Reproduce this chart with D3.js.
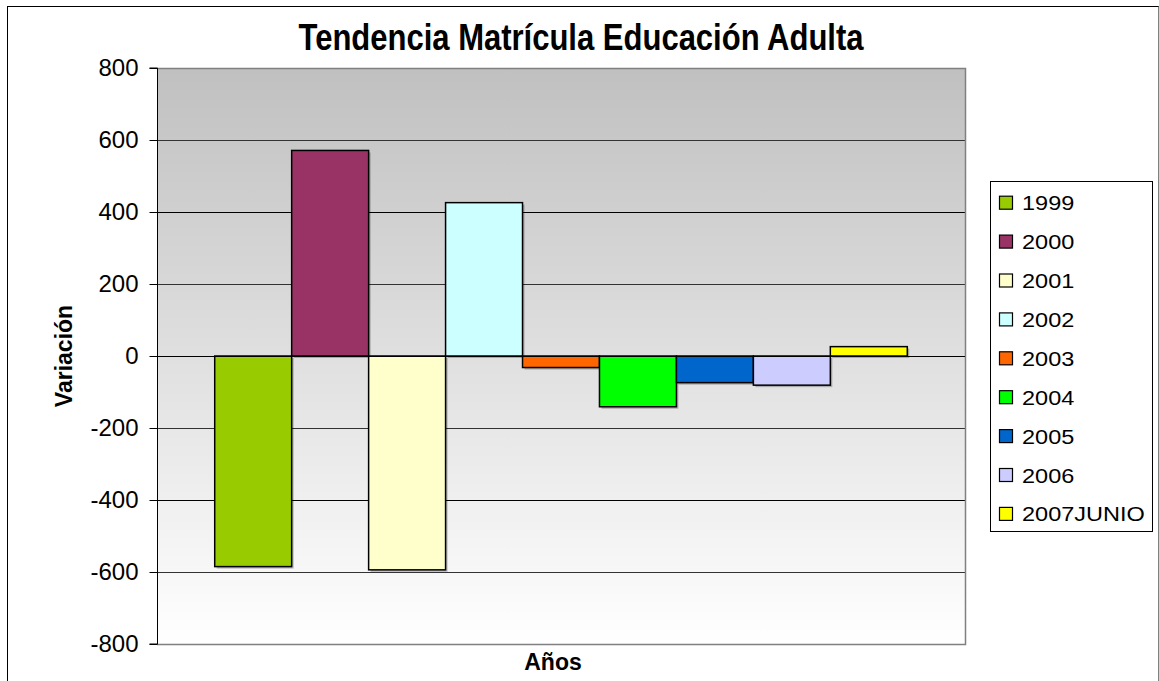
<!DOCTYPE html>
<html>
<head>
<meta charset="utf-8">
<script src="https://cdn.jsdelivr.net/npm/d3@7"></script>
<style>
  html, body { margin: 0; padding: 0; background: #ffffff; }
  svg { display: block; }
  text { font-family: "Liberation Sans", Arial, sans-serif; }
</style>
</head>
<body>
<svg id="chart" width="1159" height="681"></svg>
<script>
const title = "Tendencia Matrícula Educación Adulta";
const xTitle = "Años";
const yTitle = "Variación";
const categories = ["1999", "2000", "2001", "2002", "2003", "2004", "2005", "2006", "2007JUNIO"];
const values = [-585, 571, -594, 426, -32, -141, -74, -81, 26];
const colors = ["#99CC00", "#993366", "#FFFFCC", "#CCFFFF", "#FF6600", "#00FF00", "#0066CC", "#CCCCFF", "#FFFF00"];
const yTicks = [-800, -600, -400, -200, 0, 200, 400, 600, 800];

const svg = d3.select("#chart");
const plot = { left: 157, right: 965, top: 68, bottom: 644 };

// outer chart border
svg.append("rect").attr("x", 7.5).attr("y", 6.5).attr("width", 1151).attr("height", 700)
  .attr("fill", "#ffffff").attr("stroke", "#000000").attr("stroke-width", 1);
svg.append("line").attr("x1", 1158.5).attr("x2", 1158.5).attr("y1", 6.5).attr("y2", 681)
  .attr("stroke", "#808080").attr("stroke-width", 1);

// gradient background
const defs = svg.append("defs");
const grad = defs.append("linearGradient").attr("id", "bg").attr("x1", 0).attr("y1", 0).attr("x2", 0).attr("y2", 1);
grad.append("stop").attr("offset", "0%").attr("stop-color", "#c0c0c0");
grad.append("stop").attr("offset", "100%").attr("stop-color", "#ffffff");

const y = d3.scaleLinear().domain([-800, 800]).range([plot.bottom, plot.top]);
const x = d3.scaleBand().domain(categories).range([plot.left, plot.right]).paddingInner(0).paddingOuter(0.75);

svg.append("rect").attr("x", plot.left).attr("y", plot.top)
  .attr("width", plot.right - plot.left).attr("height", plot.bottom - plot.top)
  .attr("fill", "url(#bg)");

// gridlines
svg.append("g").selectAll("line").data(yTicks.filter(t => t !== -800 && t !== 800)).join("line")
  .attr("x1", plot.left).attr("x2", plot.right)
  .attr("y1", d => Math.round(y(d)) + 0.5).attr("y2", d => Math.round(y(d)) + 0.5)
  .attr("stroke", d => (d % 400 === 0) ? "#000000" : "#333333").attr("stroke-width", 1);

// plot border (top, right, bottom gray)
svg.append("path")
  .attr("d", `M${plot.left},${plot.top + 0.5}H${plot.right + 0.5}V${plot.bottom + 0.5}H${plot.left}`)
  .attr("fill", "none").attr("stroke", "#808080").attr("stroke-width", 1.5);

// bar shadows
svg.append("g").selectAll("rect").data(values).join("rect")
  .attr("x", (d, i) => x(categories[i]) + 2)
  .attr("y", d => Math.min(y(d), y(0)) + 2)
  .attr("width", x.bandwidth())
  .attr("height", d => Math.abs(y(d) - y(0)))
  .attr("fill", "#000000").attr("opacity", 0.25);

// bars
svg.append("g").selectAll("rect").data(values).join("rect")
  .attr("x", (d, i) => x(categories[i]))
  .attr("y", d => Math.min(y(d), y(0)))
  .attr("width", x.bandwidth())
  .attr("height", d => Math.abs(y(d) - y(0)))
  .attr("fill", (d, i) => colors[i])
  .attr("stroke", "#000000").attr("stroke-width", 1.5);

// zero line on top
svg.append("line").attr("x1", plot.left).attr("x2", plot.right)
  .attr("y1", Math.round(y(0)) + 0.5).attr("y2", Math.round(y(0)) + 0.5)
  .attr("stroke", "#000000").attr("stroke-width", 1);

// y axis
const yAxis = d3.axisLeft(y).tickValues(yTicks).tickSize(8).tickPadding(11).tickFormat(d => String(d));
const gy = svg.append("g").attr("transform", `translate(${plot.left + 0.5},0)`).call(yAxis);
gy.select(".domain").attr("stroke", "#000000").attr("d", `M-8,${plot.top}H0V${plot.bottom}H-8`);
gy.selectAll(".tick line").attr("stroke", "#000000");
gy.selectAll(".tick text").attr("font-size", 24).attr("fill", "#000000")
  .attr("font-family", "'Liberation Sans', Arial, sans-serif");

// title
svg.append("text").attr("x", 581).attr("y", 50).attr("text-anchor", "middle")
  .attr("font-family", "'Liberation Sans Narrow', 'Arial Narrow', 'Liberation Sans', Arial, sans-serif")
  .attr("font-weight", "bold").attr("font-size", 36)
  .attr("textLength", 565).attr("lengthAdjust", "spacingAndGlyphs")
  .text(title);

// axis titles
svg.append("text").attr("x", 553).attr("y", 670).attr("text-anchor", "middle")
  .attr("font-family", "'Liberation Sans Narrow', 'Arial Narrow', 'Liberation Sans', Arial, sans-serif")
  .attr("font-weight", "bold").attr("font-size", 23)
  .text(xTitle);
svg.append("text").attr("transform", `translate(72,356) rotate(-90)`).attr("text-anchor", "middle")
  .attr("font-family", "'Liberation Sans Narrow', 'Arial Narrow', 'Liberation Sans', Arial, sans-serif")
  .attr("font-weight", "bold").attr("font-size", 23)
  .text(yTitle);

// legend
const lg = svg.append("g");
lg.append("rect").attr("x", 990.5).attr("y", 181.5).attr("width", 162).attr("height", 350)
  .attr("fill", "#ffffff").attr("stroke", "#000000").attr("stroke-width", 1);
const items = lg.selectAll("g.item").data(categories).join("g").attr("class", "item")
  .attr("transform", (d, i) => `translate(0,${202.7 + i * 38.9})`);
items.append("rect").attr("x", 999.5).attr("y", -6.5).attr("width", 13).attr("height", 13)
  .attr("fill", (d, i) => colors[i]).attr("stroke", "#000000").attr("stroke-width", 1.2);
items.append("text").attr("transform", "translate(1022,7.5) scale(1.12,1)").attr("font-size", 21)
  .attr("fill", "#000000").text(d => d);
</script>
</body>
</html>
